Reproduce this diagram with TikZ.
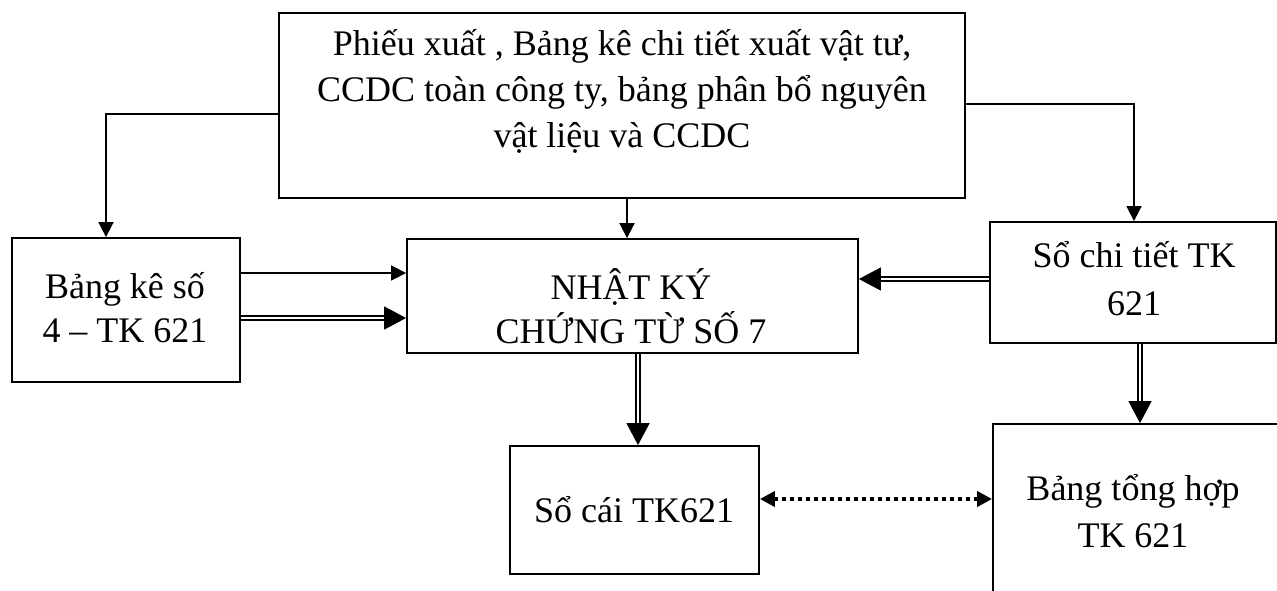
\documentclass[tikz,border=0pt]{standalone}
\usepackage{fontspec}
\setmainfont{Liberation Serif}
\usetikzlibrary{arrows.meta}

% centred lines with a fixed baseline distance; the box baseline is the first line
\newcommand\stacklines[2]{\vtop{\baselineskip=#1\lineskiplimit=-\maxdimen\lineskip=0pt
  \halign{\hfil##\hfil\cr#2\crcr}}}

\begin{document}
\begin{tikzpicture}[x=1pt, y=-1pt,
  box/.style={draw, line width=1.8pt, inner sep=0pt, rectangle},
  lbl/.style={anchor=base, inner sep=0pt, font=\fontsize{36}{44}\selectfont},
  single/.style={line width=1.6pt, -{Triangle[length=15pt,width=15pt]}},
  twin/.style={line width=1.6pt, double, double distance=2.6pt,
    -{Triangle[length=22pt,width=23pt]}},
  dotlink/.style={line width=4.4pt, dash pattern=on 4.4pt off 3.6pt,
    {Triangle[length=15pt,width=15pt]}-{Triangle[length=15pt,width=15pt]}}
]
\clip (0,0) rectangle (1277,590);
\fill[white] (0,0) rectangle (1277,590);

% boxes
\node[box, minimum width=686pt, minimum height=185pt] (top) at (622,105.5) {};
\node[box, minimum width=228pt, minimum height=144pt] (left) at (126,310) {};
\node[box, minimum width=451pt, minimum height=114pt] (mid) at (632.5,296) {};
\node[box, minimum width=286pt, minimum height=121pt] (right) at (1133,282.5) {};
\node[box, minimum width=249pt, minimum height=128pt] (ledger) at (634.5,510) {};
\node[box, minimum width=297pt, minimum height=196pt] (summary) at (1141.5,522) {};

% texts
\node[lbl] (ttop) at (622,55) {\stacklines{46pt}{Phiếu xuất , Bảng kê chi tiết xuất vật tư,\cr
  CCDC toàn công ty, bảng phân bổ nguyên\cr vật liệu và CCDC}};
\node[lbl] (tleft) at (125,298) {\stacklines{44pt}{Bảng kê số\cr 4 – TK 621}};
\node[lbl] (tmid) at (631,299) {\stacklines{44pt}{NHẬT KÝ\cr CHỨNG TỪ SỐ 7}};
\node[lbl] (tright) at (1134,267) {\stacklines{48pt}{Sổ chi tiết TK\cr 621}};
\node[lbl] (tledger) at (634,522) {Sổ cái TK621};
\node[lbl] (tsummary) at (1133,500) {\stacklines{47pt}{Bảng tổng hợp\cr TK 621}};

% connectors
\draw[single] ([yshift=-8.5pt]top.west) -| ([xshift=-20pt]left.north);
\draw[single] ([yshift=1.5pt]top.east) -| ([xshift=1pt]right.north);
\draw[single] ([xshift=5pt]top.south) -- ([xshift=5pt]top.south |- mid.north);
\draw[single] ([yshift=37pt]left.east) -- ([yshift=37pt]left.east -| mid.west);
\draw[twin] ([yshift=-8pt]left.east) -- ([yshift=-8pt]left.east -| mid.west);
\draw[twin] ([yshift=3.5pt]right.west) -- ([yshift=3.5pt]right.west -| mid.east);
\draw[twin] ([xshift=5.5pt]mid.south) -- ([xshift=5.5pt]mid.south |- ledger.north);
\draw[twin] ([xshift=7pt]right.south) -- ([xshift=7pt]right.south |- summary.north);
\draw[dotlink] ([yshift=11pt]ledger.east) -- ([yshift=11pt]ledger.east -| summary.west);
\end{tikzpicture}
\end{document}
